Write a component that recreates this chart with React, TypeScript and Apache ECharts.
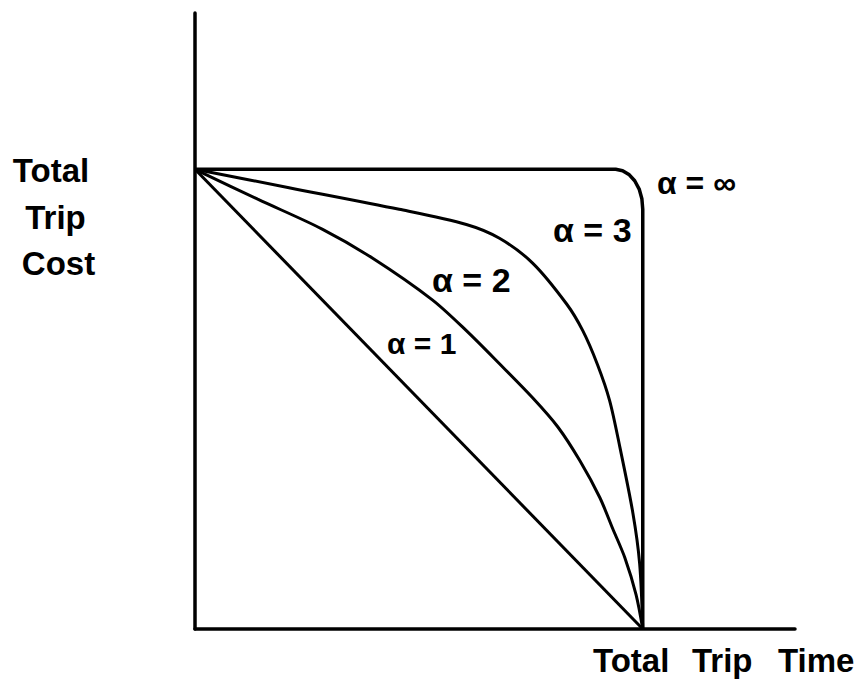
import React, { useEffect, useRef } from "react";
import * as echarts from "echarts";

// Curve shapes for each alpha, in percent of the full time / cost span.
const alpha1: [number, number][] = [
  [0, 100],
  [100, 0],
];

const alpha2: [number, number][] = [
  [0, 100], [14, 93.5], [28.4, 87.0], [39.6, 80.7], [53, 71.6], [60.6, 64.9],
  [68, 57.7], [75.4, 50.3], [81, 44], [85.9, 36.7], [90.4, 28.6],
  [93.3, 21.8], [96, 15.5], [98.5, 7.5], [100, 0],
];

const alpha3: [number, number][] = [
  [0, 100], [21, 96], [45.6, 91.3], [60.6, 88.0], [68, 85], [75.4, 79.6],
  [83, 70.7], [86.6, 64.9], [89.9, 57.5], [92.6, 49.7], [94.9, 39.5],
  [97.8, 25.2], [99.3, 14.3], [100, 0],
];

const alphaInf: [number, number][] = [
  [0, 100], [93.96, 100], [95.5, 99.7], [97.0, 98.8], [98.2, 97.5],
  [99.2, 95.7], [99.8, 93.6], [100, 91.3], [100, 0],
];

const curveLabels = ["α = 1", "α = 2", "α = 3", "α = ∞"];
const yTitleLines = ["Total", "Trip", "Cost"];
const xTitleWords = ["Total", "Trip", "Time"];

const FONT = '"Liberation Sans", Arial, sans-serif';

export default function App() {
  const ref = useRef<HTMLDivElement>(null);

  useEffect(() => {
    if (!ref.current) return;
    document.body.style.margin = "0";
    const chart = echarts.init(ref.current, null, { renderer: "svg" });

    const axisCommon = {
      type: "value" as const,
      min: 0,
      max: 134,
      axisLine: { show: true, lineStyle: { color: "#000", width: 3.5 } },
      axisTick: { show: false },
      axisLabel: { show: false },
      splitLine: { show: false },
    };

    const lineSeries = (name: string, data: [number, number][], smooth: number | boolean, width = 3) => ({
      name,
      type: "line" as const,
      data,
      smooth,
      symbol: "none",
      lineStyle: { color: "#000", width },
      z: 3,
    });

    const txt = (text: string, x: number, y: number, size: number, align = "left") => ({
      type: "text" as const,
      x,
      y,
      style: {
        text,
        fill: "#000",
        font: `bold ${size}px ${FONT}`,
        textAlign: align,
        textVerticalAlign: "middle",
      },
    });

    chart.setOption({
      animation: false,
      backgroundColor: "#fff",
      grid: { left: 195, top: 13, width: 600, height: 616, containLabel: false },
      xAxis: axisCommon,
      yAxis: axisCommon,
      series: [
        lineSeries(curveLabels[0], alpha1, false),
        lineSeries(curveLabels[1], alpha2, 0.3),
        lineSeries(curveLabels[2], alpha3, 0.3),
        lineSeries(curveLabels[3], alphaInf, false, 3.5),
      ],
      graphic: [
        txt(yTitleLines[0], 51, 170.5, 33, "center"),
        txt(yTitleLines[1], 55.5, 217.5, 33, "center"),
        txt(yTitleLines[2], 58.5, 263.5, 33, "center"),
        txt(xTitleWords[0], 593, 660, 33),
        txt(xTitleWords[1], 692, 660, 33),
        txt(xTitleWords[2], 778, 660, 33),
        txt(curveLabels[0], 387, 343, 30),
        txt(curveLabels[1], 432, 279.5, 34),
        txt(curveLabels[2], 553, 230, 34),
        txt(curveLabels[3], 657, 183, 32),
      ],
    });

    return () => chart.dispose();
  }, []);

  return <div ref={ref} style={{ width: 867, height: 687 }} />;
}
